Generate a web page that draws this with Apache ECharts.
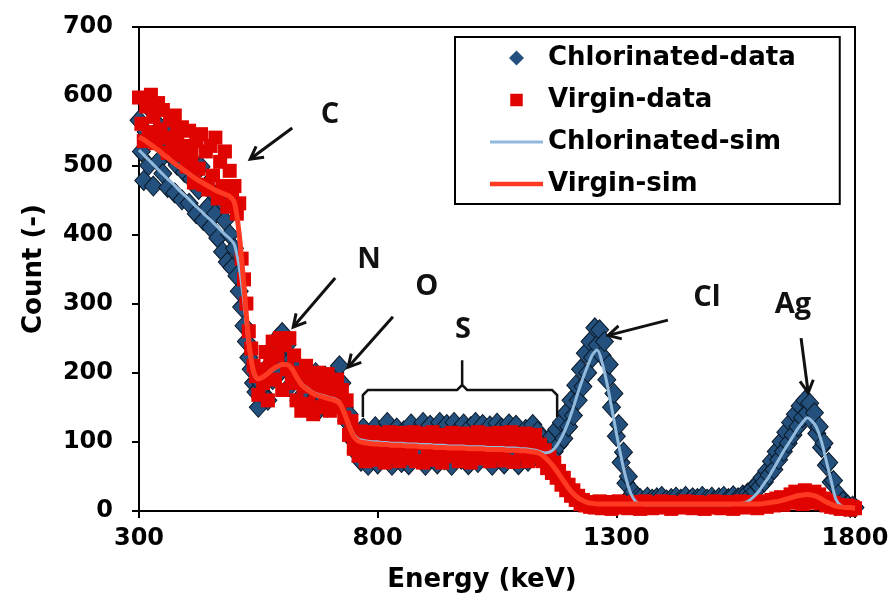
<!DOCTYPE html>
<html><head><meta charset="utf-8">
<script src="https://cdn.jsdelivr.net/npm/echarts@6/dist/echarts.min.js"></script>
<style>html,body{margin:0;padding:0;background:#fff}#c{width:893px;height:605px}</style>
</head><body><div id="c"></div>
<script>
// ---- data ----
const E_START = 300;      // keV, first channel
const DATA_STEP = 5;      // keV between measured points
const SIM_STEP = 10;      // keV between simulated points
const xTicks = [300, 800, 1300, 1800];
const yTicks = [0, 100, 200, 300, 400, 500, 600, 700];
const seriesNames = ['Chlorinated-data', 'Virgin-data', 'Chlorinated-sim', 'Virgin-sim'];

const chlorinatedData = [
  565, 520, 478, 548, 500, 580, 470, 535, 505, 555,   // 300
  488, 540, 468, 515, 550, 460, 500, 530, 450, 490,   // 350
  520, 445, 480, 505, 430, 465, 498, 420, 470, 440,   // 400
  410, 460, 430, 395, 450, 375, 420, 360, 400, 352,   // 450
  380, 340, 318, 295, 268, 245, 222, 205, 185, 172,   // 500
  150, 185, 170, 205, 160, 230, 190, 215, 250, 200,   // 550
  258, 215, 240, 180, 220, 195, 205, 160, 195, 170,   // 600
  190, 150, 180, 160, 200, 145, 185, 165, 195, 150,   // 650
  180, 155, 200, 170, 210, 185, 150, 130, 140, 105,   // 700
  118, 85, 110, 72, 120, 90, 66, 105, 80, 122,        // 750
  68, 98, 115, 76, 128, 88, 66, 108, 120, 84,         // 800
  70, 116, 100, 67, 126, 92, 78, 118, 86, 128,        // 850
  66, 104, 124, 80, 115, 68, 128, 96, 74, 125,        // 900
  110, 66, 128, 90, 118, 75, 126, 100, 67, 122,       // 950
  85, 128, 70, 112, 125, 79, 95, 123, 66, 108,        // 1000
  127, 82, 120, 68, 115, 126, 76, 102, 124, 67,       // 1050
  110, 88, 118, 72, 98, 125, 80, 115, 78, 105,        // 1100
  70, 98, 80, 108, 86, 118, 96, 128, 105, 142,        // 1150
  122, 160, 138, 182, 160, 205, 180, 228, 200, 245,   // 1200
  222, 265, 240, 262, 225, 245, 190, 212, 150, 170,   // 1250
  108, 125, 70, 85, 40, 50, 22, 28, 14, 20,           // 1300
  18, 11, 16, 20, 12, 17, 10, 19, 14, 21,             // 1350
  12, 16, 9, 18, 13, 20, 11, 17, 14, 21,              // 1400
  10, 16, 19, 12, 18, 14, 21, 11, 17, 13,             // 1450
  20, 15, 10, 19, 14, 21, 12, 18, 15, 22,             // 1500
  13, 19, 16, 23, 18, 26, 22, 32, 28, 38,             // 1550
  35, 48, 42, 58, 52, 72, 60, 86, 74, 100,            // 1600
  86, 114, 98, 128, 110, 140, 122, 152, 135, 160,     // 1650
  142, 156, 130, 142, 112, 122, 92, 98, 66, 70,       // 1700
  42, 44, 20, 24, 10, 14, 7, 9, 5, 7,                 // 1750
  5                                                   // 1800
];

const virginData = [
  598, 560, 535, 585, 548, 602, 570, 532, 590, 552,   // 300
  580, 540, 518, 565, 530, 572, 548, 515, 555, 528,   // 350
  498, 550, 515, 475, 535, 495, 545, 472, 520, 465,   // 400
  528, 485, 540, 452, 505, 470, 520, 440, 492, 455,   // 450
  470, 430, 445, 365, 335, 300, 260, 235, 210, 195,   // 500
  168, 205, 185, 230, 160, 215, 245, 190, 225, 250,   // 550
  175, 240, 205, 250, 185, 225, 160, 200, 145, 180,   // 600
  210, 155, 190, 140, 175, 200, 150, 185, 165, 198,   // 650
  145, 180, 160, 190, 150, 175, 135, 160, 110, 130,   // 700
  90, 112, 80, 115, 95, 72, 108, 88, 114, 74,         // 750
  100, 85, 112, 70, 97, 114, 78, 104, 90, 72,         // 800
  113, 94, 76, 110, 86, 114, 72, 98, 106, 70,         // 850
  112, 84, 96, 114, 74, 101, 89, 70, 110, 93,         // 900
  79, 113, 87, 104, 72, 99, 112, 82, 95, 70,          // 950
  109, 90, 114, 76, 102, 85, 112, 72, 96, 108,        // 1000
  80, 113, 88, 73, 105, 94, 114, 71, 99, 110,         // 1050
  83, 92, 112, 72, 100, 87, 110, 80, 96, 72,          // 1100
  88, 62, 78, 55, 70, 48, 58, 38, 48, 30,             // 1150
  38, 22, 30, 16, 22, 10, 16, 8, 13, 6,               // 1200
  12, 5, 9, 14, 4, 10, 7, 13, 3, 11,                  // 1250
  8, 14, 5, 9, 12, 4, 10, 6, 13, 8,                   // 1300
  3, 11, 14, 6, 9, 4, 12, 7, 10, 14,                  // 1350
  5, 8, 13, 3, 10, 7, 12, 5, 9, 14,                   // 1400
  6, 11, 4, 8, 13, 7, 10, 3, 12, 9,                   // 1450
  5, 14, 7, 11, 4, 9, 13, 6, 10, 3,                   // 1500
  12, 8, 14, 5, 9, 11, 6, 13, 8, 4,                   // 1550
  12, 9, 14, 6, 10, 16, 8, 18, 11, 20,                // 1600
  9, 17, 13, 24, 12, 28, 16, 26, 10, 30,              // 1650
  18, 25, 12, 28, 15, 24, 11, 18, 8, 15,              // 1700
  6, 12, 5, 9, 3, 7, 4, 8, 2, 6,                      // 1750
  4                                                   // 1800
];

const chlorinatedSim = [
  522, 515, 508, 501, 494, 487, 480, 474, 467, 460,   // 300
  454, 447, 440, 434, 427, 421, 414, 407, 400, 394,   // 400
  385, 352, 300, 236, 198, 190, 193, 198, 204, 208,   // 500
  211, 211, 206, 195, 185, 179, 174, 170, 168, 166,   // 600
  164, 162, 158, 144, 126, 111, 104, 102, 101, 100,   // 700
  100, 99, 99, 98, 98, 98, 97, 97, 97, 96,            // 800
  96, 96, 95, 95, 95, 94, 94, 94, 94, 93,             // 900
  93, 93, 93, 92, 92, 92, 92, 91, 91, 91,             // 1000
  90, 90, 89, 88, 86, 84, 85, 90, 100, 113,           // 1100
  130, 150, 172, 192, 210, 226, 233, 215, 186, 150,   // 1200
  113, 78, 48, 26, 14, 10, 9, 9, 9, 9,                // 1300
  9, 9, 9, 9, 9, 9, 9, 9, 9, 9,                       // 1400
  9, 9, 9, 9, 9, 10, 11, 12, 16, 22,                  // 1500
  30, 40, 50, 62, 74, 86, 97, 108, 119, 128,          // 1600
  135, 130, 120, 100, 72, 44, 17, 8, 5, 4,            // 1700
  4                                                   // 1800
];

const virginSim = [
  541, 537, 532, 527, 522, 516, 511, 505, 500, 495,   // 300
  490, 485, 480, 476, 472, 468, 464, 461, 458, 455,   // 400
  446, 400, 325, 245, 202, 191, 194, 199, 205, 209,   // 500
  212, 212, 206, 194, 183, 177, 172, 168, 166, 164,   // 600
  162, 160, 156, 142, 123, 108, 101, 99, 98, 97,      // 700
  97, 96, 96, 95, 95, 95, 94, 94, 94, 93,             // 800
  93, 93, 92, 92, 92, 91, 91, 91, 91, 90,             // 900
  90, 90, 90, 89, 89, 89, 89, 88, 88, 88,             // 1000
  87, 87, 86, 85, 83, 78, 71, 63, 53, 43,             // 1100
  33, 25, 19, 15, 12, 11, 10, 10, 10, 10,             // 1200
  10, 10, 10, 10, 10, 10, 10, 10, 10, 10,             // 1300
  10, 10, 10, 10, 10, 10, 10, 10, 10, 10,             // 1400
  10, 10, 10, 10, 10, 10, 10, 10, 10, 10,             // 1500
  10, 11, 12, 13, 14, 16, 18, 20, 22, 23,             // 1600
  24, 23, 21, 17, 13, 10, 7, 6, 5, 5,                 // 1700
  4                                                   // 1800
];

// annotation labels and arrows, in data units (keV, count)
const peakLabels = [
  { t: 'C', e: 700, c: 573 }, { t: 'N', e: 782, c: 363 }, { t: 'O', e: 903, c: 324 },
  { t: 'S', e: 979, c: 262 }, { t: 'Cl', e: 1490, c: 308 }, { t: 'Ag', e: 1670, c: 298 }
];
const peakArrows = [ // [fromE, fromC, tipE, tipC]
  [621, 554, 533, 509], [711, 337, 623, 266], [832, 281, 738, 208],
  [1408, 276, 1283, 254], [1687, 250, 1702, 171]
];
const sulfurBrace = { from: 769, to: 1176, mid: 977, level: 175, ends: 136, tip: 218 };

[chlorinatedData, virginData].forEach(a => { if (a.length !== 301) throw new Error('data length ' + a.length); });
[chlorinatedSim, virginSim].forEach(a => { if (a.length !== 151) throw new Error('sim length ' + a.length); });

const toPairs = (arr, step) => arr.map((v, i) => [E_START + i * step, v]);

const FONT = 'DejaVu Sans';
const COL = { cd: '#23507c', cdEdge: '#0b1a2a', vd: '#e00400', cs: '#92badd', vs: '#ff3a22' };
const chart = echarts.init(document.getElementById('c'), null, { renderer: 'canvas' });
const option = {
  animation: false,
  backgroundColor: '#ffffff',
  grid: { left: 139, right: 38, top: 27, bottom: 94, show: true, borderColor: '#000', borderWidth: 2, backgroundColor: 'transparent' },
  legend: {
    orient: 'vertical', left: 455, top: 37,
    itemWidth: 53, itemHeight: 15, itemGap: 14,
    padding: [7, 44, 6, 35],
    borderColor: '#000', borderWidth: 2, backgroundColor: '#fff',
    textStyle: { fontFamily: FONT, fontWeight: 'bold', fontSize: 26, color: '#000', lineHeight: 28 },
    data: [
      { name: seriesNames[0], icon: 'path://M0,-1L1,0L0,1L-1,0Z', itemStyle: { color: COL.cd, borderWidth: 0 } },
      { name: seriesNames[1], icon: 'path://M0,0H1V1H0Z', itemStyle: { color: COL.vd, borderColor: '#fff', borderWidth: 2.5 } },
      { name: seriesNames[2], icon: 'path://M0,0H53V3H0Z', itemStyle: { color: COL.cs } },
      { name: seriesNames[3], icon: 'path://M0,0H53V4.5H0Z', itemStyle: { color: COL.vs } }
    ]
  },
  xAxis: {
    type: 'value', min: xTicks[0], max: xTicks[xTicks.length - 1], interval: 500,
    name: 'Energy (keV)', nameLocation: 'middle', nameGap: 56,
    nameTextStyle: { fontFamily: FONT, fontWeight: 'bold', fontSize: 26, color: '#000', padding: [0, 30, 0, 0] },
    axisLine: { lineStyle: { color: '#000', width: 2 } },
    axisTick: { show: true, length: 7, lineStyle: { color: '#000', width: 2 } },
    axisLabel: { margin: 16, fontFamily: FONT, fontWeight: 'bold', fontSize: 24, color: '#000', formatter: v => String(v) },
    splitLine: { show: false }
  },
  yAxis: {
    type: 'value', min: yTicks[0], max: yTicks[yTicks.length - 1], interval: 100,
    name: 'Count (-)', nameLocation: 'middle', nameGap: 92,
    nameTextStyle: { fontFamily: FONT, fontWeight: 'bold', fontSize: 26, color: '#000' },
    axisLine: { show: true, lineStyle: { color: '#000', width: 2 } },
    axisTick: { show: true, length: 7, lineStyle: { color: '#000', width: 2 } },
    axisLabel: { margin: 26, fontFamily: FONT, fontWeight: 'bold', fontSize: 24, color: '#000', formatter: v => String(v) },
    splitLine: { show: false }
  },
  series: [
    { name: seriesNames[0], type: 'scatter', symbol: 'diamond', symbolSize: [18, 20],
      itemStyle: { color: COL.cd, borderColor: COL.cdEdge, borderWidth: 1, opacity: 1 },
      data: toPairs(chlorinatedData, DATA_STEP), z: 2 },
    { name: seriesNames[1], type: 'scatter', symbol: 'rect', symbolSize: 14,
      itemStyle: { color: COL.vd, opacity: 1 },
      data: toPairs(virginData, DATA_STEP), z: 3 },
    { name: seriesNames[2], type: 'line', symbol: 'none', smooth: 0.3,
      lineStyle: { color: COL.cs, width: 3 }, itemStyle: { color: COL.cs },
      data: toPairs(chlorinatedSim, SIM_STEP), z: 4 },
    { name: seriesNames[3], type: 'line', symbol: 'none', smooth: 0.3,
      lineStyle: { color: COL.vs, width: 5 }, itemStyle: { color: COL.vs },
      data: toPairs(virginSim, SIM_STEP), z: 5 }
  ]
};
chart.setOption(option);

// annotations placed through the chart's own coordinate system
const px = p => chart.convertToPixel({ gridIndex: 0 }, p);
const g = [];
const INK = '#111';
peakLabels.forEach(l => {
  const p = px([l.e, l.c]);
  g.push({ type: 'text', x: p[0], y: p[1], z: 100,
    style: { text: l.t, font: 'bold 29px "Open Sans", Lato, sans-serif', fill: INK, align: 'center', verticalAlign: 'middle' } });
});
peakArrows.forEach(a => {
  const s = px([a[0], a[1]]), t = px([a[2], a[3]]);
  const dx = t[0] - s[0], dy = t[1] - s[1], L = Math.hypot(dx, dy);
  const ux = dx / L, uy = dy / L, H = 14, ang = 0.5;
  const rot = (x, y, a2) => [x * Math.cos(a2) - y * Math.sin(a2), x * Math.sin(a2) + y * Math.cos(a2)];
  const r1 = rot(-ux, -uy, ang), r2 = rot(-ux, -uy, -ang);
  g.push({ type: 'line', z: 100, shape: { x1: s[0], y1: s[1], x2: t[0], y2: t[1] }, style: { stroke: INK, lineWidth: 3 } });
  g.push({ type: 'polyline', z: 100, shape: { points: [[t[0] + r1[0] * H, t[1] + r1[1] * H], t, [t[0] + r2[0] * H, t[1] + r2[1] * H]] },
    style: { stroke: INK, lineWidth: 3, fill: null } });
});
{
  const b = sulfurBrace;
  const L0 = px([b.from, b.ends]), L1 = px([b.from, b.level]);
  const M = px([b.mid, b.level]), T = px([b.mid, b.tip]);
  const R1 = px([b.to, b.level]), R0 = px([b.to, b.ends]);
  const r = 5;
  g.push({ type: 'polyline', z: 100, shape: { points: [
    L0, [L1[0], L1[1] + r], [L1[0] + r, L1[1]], [M[0] - r, M[1]], [M[0], M[1] - r], T,
    [M[0], M[1] - r], [M[0] + r, M[1]], [R1[0] - r, R1[1]], [R1[0], R1[1] + r], R0] },
    style: { stroke: INK, lineWidth: 2.5, fill: null } });
}
chart.setOption({ graphic: g });
</script>
</body></html>
